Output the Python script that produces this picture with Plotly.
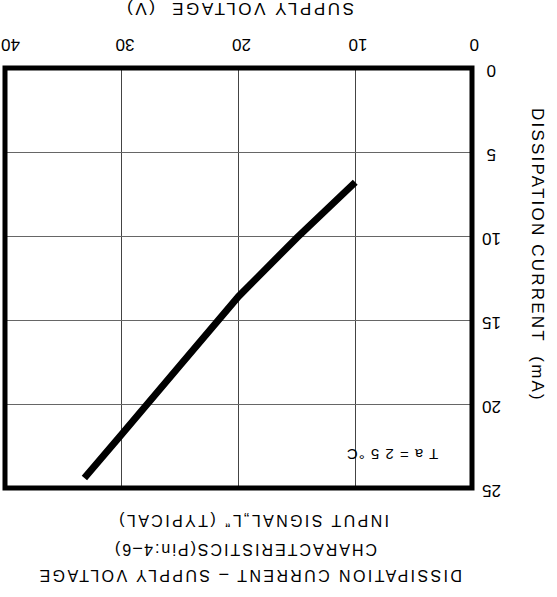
import plotly.graph_objects as go

# Data (supply voltage in V, dissipation current in mA)
voltage = [10, 15, 20, 21.5, 25, 30, 33.2]
current = [6.8, 10.1, 13.6, 14.8, 17.7, 21.8, 24.4]

x_ticks = [0, 10, 20, 30, 40]
y_ticks = [0, 5, 10, 15, 20, 25]

x_title = "SUPPLY VOLTAGE  (V)"
y_title = "DISSIPATION CURRENT  (mA)"
caption_lines = [
    "DISSIPATION CURRENT – SUPPLY VOLTAGE",
    "CHARACTERISTICS(Pin:4–6)",
    "INPUT SIGNAL\u201eL\u201f (TYPICAL)",
]
note = "T a = 2 5 °C"

FONT = "Liberation Sans, Arial, sans-serif"


def spaced(text, px):
    return f'<span style="letter-spacing:{px}px">{text}</span>'


fig = go.Figure()
fig.add_trace(go.Scatter(
    x=voltage, y=current, mode="lines",
    line=dict(color="black", width=7),
    showlegend=False, hoverinfo="skip",
))

fig.update_layout(
    width=557, height=597,
    margin=dict(l=5, r=85, t=68, b=109, autoexpand=False),
    paper_bgcolor="white", plot_bgcolor="white",
    font=dict(family=FONT, color="black"),
    xaxis=dict(
        range=[40, 0], side="top", tickvals=x_ticks, showticklabels=False,
        showgrid=True, gridcolor="#444", gridwidth=1,
        zeroline=False, showline=False, ticks="", automargin=False,
    ),
    yaxis=dict(
        range=[25, 0], side="right", tickvals=y_ticks, showticklabels=False,
        showgrid=True, gridcolor="#666", gridwidth=1,
        zeroline=False, showline=False, ticks="", automargin=False,
    ),
    shapes=[dict(type="rect", xref="paper", yref="paper", x0=0, x1=1, y0=0, y1=1,
                 line=dict(color="black", width=5), layer="above")],
)

C = dict(showarrow=False, xanchor="center", yanchor="middle")

annotations = []
# tick labels (upside down), placed on the axis scales
for v in x_ticks:
    annotations.append(dict(text=str(v), x=v, xref="x", xshift=(6 if v == 40 else 3),
                            y=1, yref="paper", yshift=23, textangle=180,
                            font=dict(size=17), **C))
for v in y_ticks:
    annotations.append(dict(text=str(v), x=1, xref="paper", xshift=20, y=v, yref="y",
                            yshift=-3, textangle=180, font=dict(size=17), **C))

annotations += [
    dict(text=spaced(x_title, 2.6), xref="paper", yref="paper", x=0, xshift=239 - 5,
         y=1, yshift=68 - 9, textangle=180, font=dict(size=17), **C),
    dict(text=spaced(y_title, 2.2), xref="paper", yref="paper", x=1.0, xshift=538 - 472,
         y=1, yshift=-(255 - 68), textangle=90, font=dict(size=17), **C),
    dict(text=spaced(caption_lines[0], 2.4), xref="paper", yref="paper", x=0, xshift=250 - 5,
         y=0, yshift=-(576 - 488), textangle=180, font=dict(size=16), **C),
    dict(text=spaced(caption_lines[1], 2.0), xref="paper", yref="paper", x=0, xshift=245 - 5,
         y=0, yshift=-(550 - 488), textangle=180, font=dict(size=16), **C),
    dict(text=spaced(caption_lines[2], 2.4), xref="paper", yref="paper", x=0, xshift=253 - 5,
         y=0, yshift=-(521 - 488), textangle=180, font=dict(size=16), **C),
    dict(text=spaced(note, 1.0), x=6.8, y=23, textangle=180, font=dict(size=15), **C),
]
fig.update_layout(annotations=annotations)

fig.write_html("out.html", config={"displayModeBar": False},
               post_script="document.body.style.margin='0';")
